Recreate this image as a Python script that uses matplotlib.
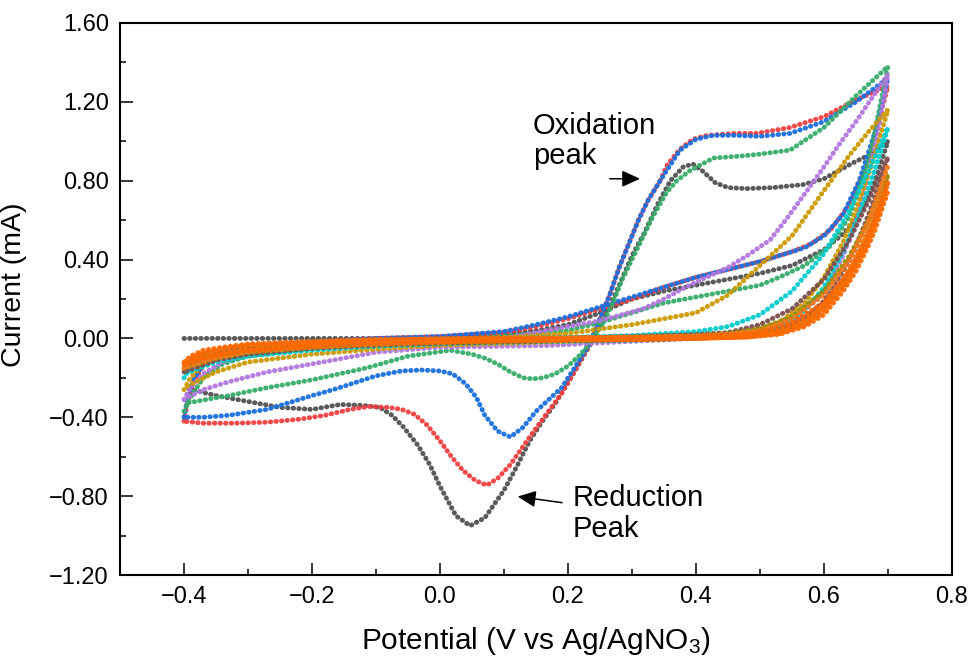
import matplotlib
matplotlib.use('Agg')
import matplotlib.pyplot as plt
from matplotlib.ticker import MultipleLocator, FuncFormatter

plt.rcParams['font.family'] = ['Liberation Sans', 'DejaVu Sans']
plt.rcParams['mathtext.fontset'] = 'custom'
plt.rcParams['mathtext.rm'] = 'Liberation Sans'
plt.rcParams['mathtext.it'] = 'Liberation Sans:italic'

# --- big loops: forward (-0.4 -> 0.7) then reverse (0.7 -> -0.4) ---
gray_x = [-0.4, -0.3, -0.2, -0.1, 0.0, 0.1, 0.15, 0.2, 0.25, 0.3, 0.35, 0.4, 0.45, 0.5, 0.55, 0.6, 0.63, 0.66, 0.68, 0.7,
          0.67, 0.645, 0.6, 0.567, 0.52, 0.48, 0.45, 0.43, 0.41, 0.395, 0.38, 0.36, 0.34, 0.32, 0.3, 0.28, 0.265, 0.25,
          0.235, 0.21, 0.18, 0.16, 0.14, 0.12, 0.1, 0.07, 0.047, 0.025, 0.0, -0.016, -0.035, -0.057, -0.075, -0.094,
          -0.12, -0.156, -0.2, -0.25, -0.3, -0.35, -0.4]
gray_y = [0.0, 0.0, 0.0, 0.0, 0.005, 0.02, 0.04, 0.07, 0.13, 0.2, 0.24, 0.27, 0.3, 0.33, 0.37, 0.45, 0.53, 0.65, 0.8, 1.0,
          0.93, 0.89, 0.81, 0.78, 0.765, 0.76, 0.765, 0.79, 0.85, 0.885, 0.87, 0.8, 0.68, 0.54, 0.42, 0.27, 0.16, 0.06,
          -0.03, -0.17, -0.33, -0.42, -0.52, -0.65, -0.77, -0.91, -0.95, -0.9, -0.75, -0.64, -0.54, -0.45, -0.39, -0.35,
          -0.34, -0.335, -0.36, -0.35, -0.32, -0.29, -0.25]

red_x = [-0.4, -0.395, -0.385, -0.37, -0.35, -0.3, -0.2, -0.1, 0.0, 0.1, 0.15, 0.2, 0.25, 0.3, 0.35, 0.4, 0.45, 0.5,
         0.55, 0.58, 0.61, 0.64, 0.67, 0.7,
         0.65, 0.6, 0.547, 0.495, 0.46, 0.417, 0.395, 0.375, 0.355, 0.344, 0.325, 0.31, 0.295, 0.28, 0.265, 0.25, 0.235,
         0.21, 0.19, 0.167, 0.14, 0.11, 0.09, 0.073, 0.055, 0.036, 0.018, 0.0, -0.02, -0.04, -0.06, -0.08, -0.11,
         -0.14, -0.18, -0.22, -0.27, -0.32, -0.37, -0.4]
red_y = [-0.42, -0.33, -0.22, -0.14, -0.09, -0.05, -0.02, 0.0, 0.01, 0.03, 0.06, 0.1, 0.15, 0.2, 0.26, 0.31, 0.35, 0.39,
         0.44, 0.48, 0.55, 0.68, 0.9, 1.28,
         1.21, 1.125, 1.07, 1.04, 1.04, 1.03, 1.01, 0.96, 0.88, 0.8, 0.7, 0.6, 0.48, 0.36, 0.22, 0.1, -0.02,
         -0.17, -0.28, -0.38, -0.5, -0.64, -0.71, -0.745, -0.72, -0.67, -0.6, -0.52, -0.44, -0.385, -0.36, -0.35, -0.345,
         -0.36, -0.39, -0.41, -0.425, -0.43, -0.43, -0.42]

blue_x = [-0.4, -0.395, -0.385, -0.37, -0.35, -0.3, -0.2, -0.1, 0.0, 0.1, 0.15, 0.2, 0.25, 0.3, 0.35, 0.4, 0.45, 0.5,
          0.57, 0.6, 0.63, 0.655, 0.68, 0.7,
          0.65, 0.6, 0.547, 0.5, 0.46, 0.427, 0.4, 0.375, 0.36, 0.344, 0.325, 0.31, 0.295, 0.28, 0.265, 0.25, 0.235,
          0.21, 0.19, 0.17, 0.15, 0.13, 0.11, 0.09, 0.07, 0.057, 0.04, 0.02, 0.0, -0.03, -0.06, -0.1, -0.167, -0.2,
          -0.27, -0.33, -0.37, -0.4]
blue_y = [-0.4, -0.31, -0.21, -0.13, -0.08, -0.045, -0.02, 0.0, 0.01, 0.035, 0.07, 0.11, 0.16, 0.21, 0.26, 0.31, 0.35,
          0.39, 0.46, 0.52, 0.63, 0.8, 1.05, 1.32,
          1.2, 1.1, 1.04, 1.025, 1.03, 1.03, 1.01, 0.955, 0.88, 0.8, 0.7, 0.6, 0.48, 0.36, 0.22, 0.1, -0.02,
          -0.15, -0.25, -0.31, -0.37, -0.45, -0.5, -0.47, -0.39, -0.3, -0.23, -0.18, -0.165, -0.16, -0.165, -0.19,
          -0.26, -0.29, -0.36, -0.39, -0.4, -0.4]

green_x = [-0.4, -0.39, -0.37, -0.34, -0.3, -0.2, -0.1, 0.0, 0.1, 0.2, 0.25, 0.3, 0.35, 0.4, 0.45, 0.5, 0.53, 0.57,
           0.61, 0.64, 0.67, 0.7,
           0.65, 0.6, 0.547, 0.5, 0.47, 0.427, 0.39, 0.37, 0.354, 0.333, 0.315, 0.3, 0.285, 0.27, 0.255, 0.24, 0.22,
           0.2, 0.18, 0.16, 0.145, 0.13, 0.11, 0.09, 0.07, 0.05, 0.016, -0.05, -0.115, -0.2, -0.27, -0.33, -0.4]
green_y = [-0.37, -0.3, -0.2, -0.13, -0.09, -0.05, -0.03, -0.01, 0.01, 0.04, 0.08, 0.13, 0.18, 0.21, 0.24, 0.27, 0.31,
           0.37, 0.47, 0.62, 0.9, 1.38,
           1.23, 1.07, 0.955, 0.935, 0.925, 0.915, 0.85, 0.8, 0.74, 0.62, 0.5, 0.4, 0.3, 0.18, 0.08, 0.0, -0.08,
           -0.14, -0.18, -0.2, -0.205, -0.2, -0.17, -0.13, -0.1, -0.08, -0.06, -0.09, -0.15, -0.21, -0.25, -0.29, -0.33]

purple_x = [-0.4, -0.39, -0.37, -0.34, -0.3, -0.2, -0.1, 0.0, 0.1, 0.19, 0.25, 0.317, 0.35, 0.39, 0.45, 0.48, 0.516,
            0.54, 0.567, 0.6, 0.625, 0.65, 0.675, 0.7,
            0.69, 0.68, 0.665, 0.65, 0.63, 0.6, 0.56, 0.5, 0.4, 0.3, 0.17, 0.0, -0.1, -0.167, -0.27, -0.33, -0.37, -0.4]
purple_y = [-0.31, -0.25, -0.18, -0.12, -0.08, -0.04, -0.02, -0.01, 0.0, 0.055, 0.09, 0.15, 0.2, 0.27, 0.36, 0.42, 0.5,
            0.6, 0.72, 0.87, 0.99, 1.1, 1.22, 1.34,
            1.15, 0.97, 0.78, 0.6, 0.42, 0.24, 0.11, 0.035, 0.0, -0.015, -0.036, -0.045, -0.07, -0.11, -0.17, -0.22,
            -0.26, -0.31]

# --- small loops share the same potential grid ---
small_fwd_x = [-0.4, -0.39, -0.37, -0.33, -0.3, -0.2, -0.1, 0.0, 0.1, 0.2, 0.3, 0.4, 0.45, 0.5, 0.55, 0.6, 0.64, 0.67, 0.7]
small_rev_x = [0.7, 0.69, 0.68, 0.665, 0.65, 0.63, 0.6, 0.57, 0.53, 0.48, 0.4, 0.3, 0.2, 0.1, 0.0, -0.1, -0.2, -0.3,
               -0.35, -0.4]

gold_fwd = [-0.26, -0.2, -0.13, -0.08, -0.06, -0.03, -0.015, -0.005, 0.005, 0.025, 0.07, 0.13, 0.22, 0.37, 0.52, 0.75,
            0.93, 1.05, 1.16]
gold_rev = [1.16, 1.05, 0.94, 0.79, 0.65, 0.49, 0.31, 0.18, 0.08, 0.03, 0.006, -0.005, -0.015, -0.025, -0.035, -0.055,
            -0.08, -0.12, -0.17, -0.25]
cyan_fwd = [-0.2, -0.15, -0.1, -0.06, -0.045, -0.025, -0.012, -0.005, 0.0, 0.005, 0.015, 0.035, 0.06, 0.12, 0.24, 0.43,
            0.65, 0.85, 1.07]
cyan_rev = [1.07, 0.96, 0.86, 0.72, 0.59, 0.44, 0.26, 0.14, 0.06, 0.02, 0.003, -0.01, -0.015, -0.02, -0.028, -0.04,
            -0.06, -0.09, -0.12, -0.18]
brown_fwd = [-0.17, -0.13, -0.09, -0.055, -0.04, -0.022, -0.01, -0.004, 0.0, 0.003, 0.01, 0.02, 0.03, 0.07, 0.15, 0.3,
             0.5, 0.7, 0.92]
brown_rev = [0.92, 0.82, 0.72, 0.59, 0.47, 0.34, 0.19, 0.1, 0.04, 0.015, 0.002, -0.008, -0.012, -0.018, -0.025, -0.035,
             -0.05, -0.08, -0.11, -0.17]
olive_fwd = [-0.15, -0.12, -0.08, -0.05, -0.035, -0.02, -0.008, -0.003, 0.0, 0.002, 0.007, 0.015, 0.025, 0.05, 0.11,
             0.24, 0.42, 0.6, 0.83]
olive_rev = [0.83, 0.73, 0.63, 0.51, 0.4, 0.29, 0.16, 0.08, 0.03, 0.01, 0.0, -0.006, -0.01, -0.015, -0.022, -0.03,
             -0.045, -0.07, -0.1, -0.15]
orange1_fwd = [-0.15, -0.11, -0.075, -0.05, -0.035, -0.02, -0.009, -0.003, 0.0, 0.002, 0.006, 0.013, 0.022, 0.04, 0.1,
               0.22, 0.4, 0.6, 0.88]
orange1_rev = [0.88, 0.77, 0.66, 0.53, 0.42, 0.3, 0.17, 0.08, 0.03, 0.01, 0.0, -0.006, -0.01, -0.014, -0.02, -0.03,
               -0.045, -0.07, -0.1, -0.15]
orange2_fwd = [-0.13, -0.1, -0.07, -0.045, -0.03, -0.017, -0.007, -0.002, 0.0, 0.002, 0.005, 0.01, 0.018, 0.03, 0.08,
               0.18, 0.34, 0.52, 0.79]
orange2_rev = [0.79, 0.69, 0.59, 0.47, 0.37, 0.26, 0.14, 0.07, 0.025, 0.007, 0.0, -0.005, -0.008, -0.012, -0.018,
               -0.026, -0.04, -0.06, -0.085, -0.13]
orange3_fwd = [-0.12, -0.09, -0.06, -0.04, -0.028, -0.015, -0.006, -0.002, 0.0, 0.001, 0.004, 0.008, 0.014, 0.02, 0.06,
               0.15, 0.3, 0.48, 0.75]
orange3_rev = [0.75, 0.65, 0.55, 0.44, 0.34, 0.24, 0.12, 0.06, 0.02, 0.006, 0.0, -0.004, -0.007, -0.01, -0.015, -0.022,
               -0.035, -0.055, -0.08, -0.12]

curves = [
    (gray_x, gray_y, '#515151'),
    (red_x, red_y, '#F14040'),
    (blue_x, blue_y, '#1A6FDF'),
    (green_x, green_y, '#37AD6B'),
    (purple_x, purple_y, '#B177DE'),
    (small_fwd_x + small_rev_x, gold_fwd + gold_rev, '#CC9900'),
    (small_fwd_x + small_rev_x, cyan_fwd + cyan_rev, '#00CBCC'),
    (small_fwd_x + small_rev_x, brown_fwd + brown_rev, '#7D4E4E'),
    (small_fwd_x + small_rev_x, olive_fwd + olive_rev, '#8E8E00'),
    (small_fwd_x + small_rev_x, orange1_fwd + orange1_rev, '#F47A1F'),
    (small_fwd_x + small_rev_x, orange2_fwd + orange2_rev, '#FB6501'),
    (small_fwd_x + small_rev_x, orange3_fwd + orange3_rev, '#FF6A00'),
]

fig = plt.figure(figsize=(9.71, 6.57), dpi=100)
ax = fig.add_axes([0.1236, 0.1248, 0.8568, 0.8402])

for xs, ys, c in curves:
    ax.plot(xs, ys, color=c, lw=3.5, linestyle=(0, (0.1, 1.05)),
            dash_capstyle='round', solid_capstyle='round', alpha=0.95)

ax.set_xlim(-0.5, 0.8)
ax.set_ylim(-1.2, 1.6)
ax.xaxis.set_major_locator(MultipleLocator(0.2))
ax.xaxis.set_minor_locator(MultipleLocator(0.1))
ax.yaxis.set_major_locator(MultipleLocator(0.4))
ax.yaxis.set_minor_locator(MultipleLocator(0.2))
ax.xaxis.set_major_formatter(FuncFormatter(lambda v, p: f'{v:.1f}'.replace('-', '\u2212')))
ax.yaxis.set_major_formatter(FuncFormatter(lambda v, p: f'{v:.2f}'.replace('-', '\u2212')))

ax.tick_params(which='both', direction='in', top=False, right=False, width=1.1, labelsize=17, pad=8)
ax.tick_params(which='major', length=9)
ax.tick_params(which='minor', length=4.5)
for s in ax.spines.values():
    s.set_linewidth(1.5)

ax.set_ylabel('Current (mA)', fontsize=20.5)
ax.yaxis.set_label_coords(-0.112, 0.525)
ax.set_xlabel('Potential (V vs Ag/AgNO$_3$)', fontsize=21.5)
ax.xaxis.set_label_coords(0.5, -0.09)

ax.text(0.145, 1.15, 'Oxidation\npeak', fontsize=21, va='top', ha='left', linespacing=1.1)
ax.annotate('', xy=(0.317, 0.81), xytext=(0.261, 0.81),
            arrowprops=dict(arrowstyle='-|>,head_length=1.1,head_width=0.5', color='black', lw=1.1))
ax.text(0.208, -0.74, 'Reduction\nPeak', fontsize=21, va='top', ha='left', linespacing=1.1)
ax.annotate('', xy=(0.117, -0.80), xytext=(0.195, -0.835),
            arrowprops=dict(arrowstyle='-|>,head_length=1.1,head_width=0.5', color='black', lw=1.1))

fig.savefig('out.png', dpi=100)
